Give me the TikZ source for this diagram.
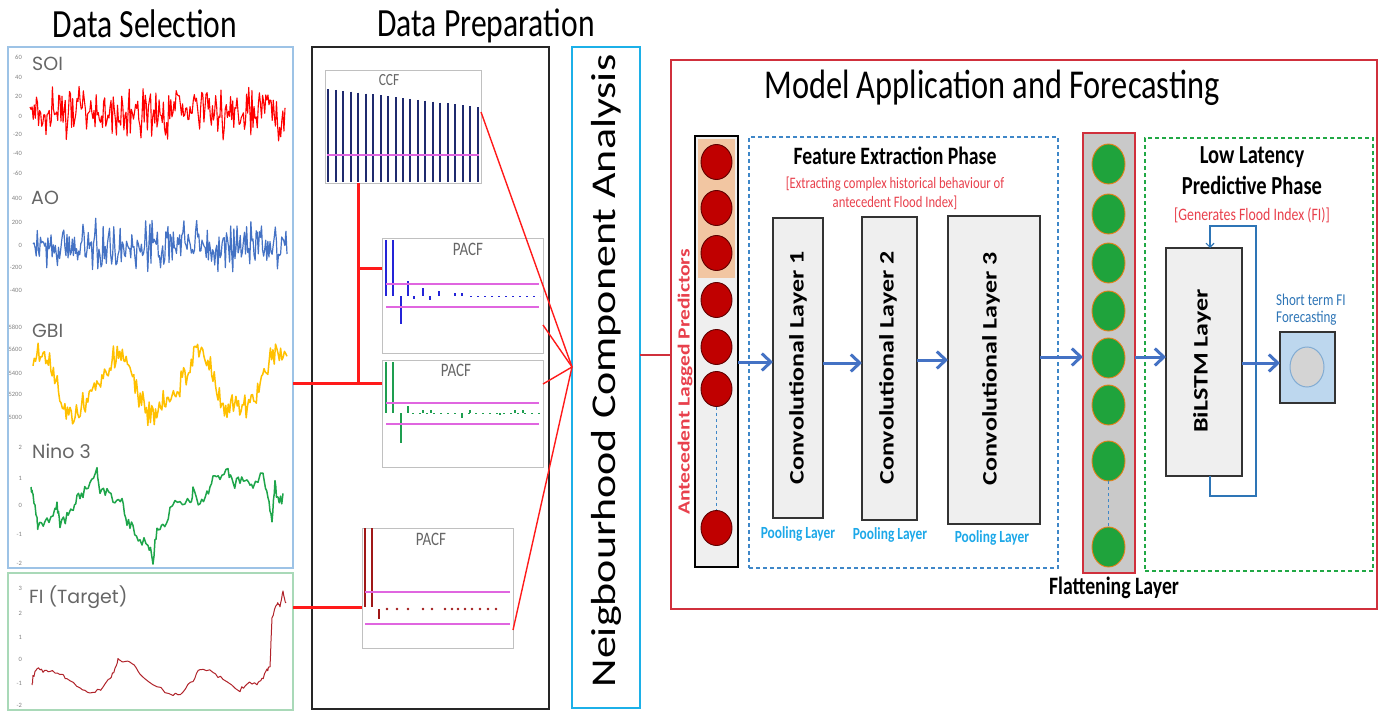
\documentclass[tikz,border=0pt]{standalone}
\usepackage{fontspec}
\usepackage{graphicx}
\setmainfont{Carlito}
\newfontfamily\plotlabelfont{Poppins}
\usetikzlibrary{arrows.meta,fit,shapes.geometric}

\newcommand{\pxfont}[1]{\fontsize{#1pt}{#1pt}\selectfont}
\newcommand{\sqz}[1]{\scalebox{0.79}[1]{#1}}
\newcommand{\sqzv}[1]{\scalebox{1}[0.79]{#1}}

\definecolor{panelblue}{HTML}{9DC3E6}
\definecolor{panelgreen}{HTML}{A9D9B8}
\definecolor{soired}{HTML}{FF0000}
\definecolor{aoblue}{HTML}{4472C4}
\definecolor{gbiorange}{HTML}{FFC000}
\definecolor{ninogreen}{HTML}{1EA54A}
\definecolor{fired}{HTML}{B0232A}
\definecolor{labelgray}{HTML}{666666}
\definecolor{tickgray}{HTML}{808080}
\definecolor{framegray}{HTML}{C0C0C0}
\definecolor{ccfnavy}{HTML}{1F2A6E}
\definecolor{confmag}{HTML}{E066E0}
\definecolor{pacfblue}{HTML}{2424D8}
\definecolor{pacfgreen}{HTML}{1E9E50}
\definecolor{pacfred}{HTML}{A01818}
\definecolor{linkred}{HTML}{FF1A1A}
\definecolor{ncacyan}{HTML}{1CB0E8}
\definecolor{modelred}{HTML}{D0303C}
\definecolor{arrowblue}{HTML}{4472C4}
\definecolor{predred}{HTML}{E8404C}
\definecolor{poolcyan}{HTML}{1DA8E8}
\definecolor{layerfill}{HTML}{EFEFEF}
\definecolor{peach}{HTML}{F2C6A2}
\definecolor{nodered}{HTML}{C00000}
\definecolor{nodegreen}{HTML}{1FA33C}
\definecolor{flatgray}{HTML}{C9C9C9}
\definecolor{outblue}{HTML}{BDD7EE}
\definecolor{outcircle}{HTML}{D4D4D4}
\definecolor{fcblue}{HTML}{2E75B6}
\definecolor{dashblue}{HTML}{3F87C8}
\definecolor{dashgreen}{HTML}{21A845}

\tikzset{
  box/.style={inner sep=0pt, outer sep=0pt},
  heading/.style={anchor=base, inner sep=0pt, font=\pxfont{40}},
  serieslabel/.style={anchor=base west, inner sep=0pt, text=labelgray, font=\plotlabelfont\pxfont{19}},
  axtick/.style={anchor=east, inner sep=0pt, text=tickgray, font=\pxfont{6.5}},
  plotname/.style={inner sep=0pt, text=labelgray, font=\pxfont{19}},
  plotframe/.style={box, draw=framegray, line width=0.9pt},
  confline/.style={confmag, line width=1.5pt},
  redlink/.style={linkred, line width=3pt},
  fanlink/.style={linkred, line width=1.4pt},
  layerbox/.style={box, draw=black!80, line width=1.8pt, fill=layerfill},
  layertext/.style={rotate=90, inner sep=0pt, font=\bfseries\pxfont{26}},
  pooltext/.style={anchor=base, inner sep=0pt, text=poolcyan, font=\bfseries\pxfont{17}},
  phasetitle/.style={anchor=base, inner sep=0pt, font=\bfseries\pxfont{25}},
  phasenote/.style={anchor=base, inner sep=0pt, text=predred, font=\pxfont{16}},
  flow/.style={arrowblue, line width=3pt, -{Straight Barb[length=9pt,width=17pt]}},
  rednode/.style={ellipse, minimum width=31pt, minimum height=35pt, inner sep=0pt, fill=nodered, draw=nodered!50!black, line width=0.9pt},
  greennode/.style={ellipse, minimum width=33pt, minimum height=40pt, inner sep=0pt, fill=nodegreen, draw=orange!60!brown, line width=0.9pt},
  chain/.style={dashblue, line width=1pt, dashed},
}

\begin{document}
\begin{tikzpicture}[x=1pt, y=-1pt]
\useasboundingbox (0,0) rectangle (1385,712);

% ---------------- Data Selection ----------------
\node[heading] (selhead) at (145,37) {\sqz{Data Selection}};
\node[box, draw=panelblue, line width=1.6pt, fit={(8,47) (293,568)}] (selbox) {};
\node[box, draw=panelgreen, line width=1.6pt, fit={(8,573) (293,710)}] (fibox) {};

\node[serieslabel] (soilab) at (32,70) {SOI};
\node[serieslabel] (aolab) at (31,204) {AO};
\node[serieslabel] (gbilab) at (32,337) {GBI};
\node[serieslabel] (ninolab) at (32,458) {Nino 3};
\node[serieslabel] (filab) at (29,603) {FI (Target)};

\foreach \v/\y in {60/57,40/77,20/96,0/116,-20/134,-40/153,-60/173}
  \node[axtick] at (22,\y) {\v};
\foreach \v/\y in {400/198,200/222,0/245,-200/267,-400/290}
  \node[axtick] at (22,\y) {\v};
\foreach \v/\y in {5800/327,5600/349,5400/373,5200/394,5000/417}
  \node[axtick] at (22,\y) {\v};
\foreach \v/\y in {2/447,1/478,0/505,-1/534,-2/563}
  \node[axtick] at (22,\y) {\v};
\foreach \v/\y in {3/588,2/613,1/637,0/659,-1/683,-2/705}
  \node[axtick] at (22,\y) {\v};

\pgfmathsetseed{12}
% SOI
\draw[soired, line width=1.1pt, line join=round]
  plot[domain=30:285, samples=240] (\x, {113 - 17*rand - 14*rand});
% AO
\draw[aoblue, line width=1.2pt, line join=round]
  plot[domain=33:287, samples=240] (\x, {245 - 14*rand - 10*rand - 7*rand});
% GBI
\draw[gbiorange, line width=1.5pt, line join=round]
  plot[domain=33:287, samples=200] (\x, {385 - 28*cos((\x-35)*4.44) + 6*sin((\x-20)*9.5) - 9*rand - 7*rand});
% Nino 3
\draw[ninogreen, line width=1.5pt, line join=round] (31,487)
  \foreach \xb/\yb [remember=\xb as \xa (initially 31), remember=\yb as \ya (initially 487)] in
  {33/497,37/517,38/528,45/522,53/517,57/505,60/527,67/517,72/513,77/497,83/493,90/480,97/472,
   100/490,107/493,115/502,122/497,127/523,133/527,140/540,148/543,153/560,157/528,163/527,
   170/510,180/500,190/503,193/492,200/503,207/493,213/477,220/478,228/468,233/487,240/480,
   247/480,253/490,263/473,268/497,272/520,275/485,278/502,283/498}
  { \foreach \k in {1,...,4} { -- ({\xa+(\xb-\xa)*\k/4}, {\ya+(\yb-\ya)*\k/4+5*rand}) } };
% FI
\draw[fired, line width=1pt, line join=round] (32,685)
  \foreach \xb/\yb [remember=\xb as \xa (initially 32), remember=\yb as \ya (initially 685)] in
  {33/677,37/668,43/671,50/670,60/673,67/680,80/687,90/692,100/690,103/687,110/678,115/670,
   118/660,123/663,132/662,140/673,157/687,173/695,183/692,193/680,200/668,213/672,223/680,
   240/690,247/683,257/685,262/680,267/670,270/667,272/617,277/603,280/607,283/592,286/603}
  { \foreach \k in {1,...,4} { -- ({\xa+(\xb-\xa)*\k/4}, {\ya+(\yb-\ya)*\k/4+1.8*rand}) } };

% ---------------- Data Preparation ----------------
\node[heading] (prephead) at (486,36) {\sqz{Data Preparation}};
\node[box, draw=black!85, line width=1.8pt, fit={(312,47) (549,709)}] (prepbox) {};

% CCF
\node[plotframe, fit={(325,70) (481,183)}] (ccf) {};
\node[plotname, font=\pxfont{17}] at (389,80) {\sqz{CCF}};
\foreach \i in {0,...,20}
  \draw[ccfnavy, line width=2pt] ({328.3+7.47*\i}, {89+0.9*\i}) -- ({328.3+7.47*\i}, 182);
\draw[confline] (327,155) -- (479,155);

% PACF 1
\node[plotframe, fit={(382,238) (543,353)}] (pacf1) {};
\node[plotname] at (468,249) {\sqz{PACF}};
\draw[pacfblue, line width=2pt] (386,240) -- (386,296) (393,240) -- (393,296)
  (401,296) -- (401,324) (408,281) -- (408,296) (414,296) -- (414,299)
  (423,288) -- (423,296) (430,296) -- (430,300) (439,291) -- (439,296)
  (455,293) -- (455,296) (462,293) -- (462,296);
\draw[pacfblue, line width=0.8pt, dash pattern=on 2pt off 5pt] (470,296) -- (540,296);
\draw[confline] (386,284) -- (539,284) (386,307) -- (539,307);

% PACF 2
\node[plotframe, fit={(382,360) (543,467)}] (pacf2) {};
\node[plotname] at (456,370) {\sqz{PACF}};
\draw[pacfgreen, line width=2pt] (386,362) -- (386,413) (393,362) -- (393,413)
  (401,413) -- (401,443) (408,406) -- (408,413) (423,410) -- (423,413)
  (431,410) -- (431,413) (462,413) -- (462,418) (470,410) -- (470,413)
  (500,413) -- (500,415) (515,410) -- (515,413) (523,410) -- (523,413);
\draw[pacfgreen, line width=0.8pt, dash pattern=on 2pt off 5pt] (412,413) -- (540,413);
\draw[confline] (386,403) -- (539,403) (386,424) -- (539,424);

% PACF 3
\node[plotframe, fit={(362,528) (513,648)}] (pacf3) {};
\node[plotname] at (431,539) {\sqz{PACF}};
\draw[pacfred, line width=2pt] (365,528) -- (365,607) (372,528) -- (372,607) (379,609) -- (379,619);
\foreach \x in {387,397,408,423,432,445,452,458,465,472,480,488,496}
  \fill[pacfred] (\x,609) circle (1.3pt);
\draw[confline] (365,592) -- (510,592) (365,624) -- (510,624);

% links from the series to the correlation plots
\coordinate (jtop) at (358,183);
\coordinate (jmid) at (358,268);
\coordinate (jbot) at (358,383);
\coordinate (fiout) at (293,607);
\draw[redlink] (jtop) -- (jbot);
\draw[redlink] (jmid) -- (jmid -| pacf1.west);
\draw[redlink] (selbox.east |- jbot) -- (jbot -| pacf2.west);
\draw[redlink] (fiout) -- (fiout -| pacf3.west);

% ---------------- Neighbourhood Component Analysis ----------------
\node[box, draw=ncacyan, line width=1.8pt, fit={(572,47) (640,708)}] (nca) {};
\node[rotate=90, inner sep=0pt, font=\pxfont{44}] (ncalab) at (606,371) {\sqzv{Neigbourhood Component Analysis}};
\coordinate (ncain) at (572,367);
\coordinate (ccfout) at (481,112);
\coordinate (p1out) at (543,325);
\coordinate (p2out) at (543,384);
\coordinate (p3out) at (513,630);
\foreach \c in {ccfout,p1out,p2out,p3out}
  \draw[fanlink] (\c) -- (ncain);

% ---------------- Model Application and Forecasting ----------------
\node[box, draw=modelred, line width=1.6pt, fit={(671,60) (1377,609)}] (model) {};
\node[heading, font=\pxfont{41}] (modelhead) at (992,98) {\sqz{Model Application and Forecasting}};
\coordinate (ncaout) at (640,355);
\draw[modelred, line width=1.5pt] (ncaout) -- (ncaout -| model.west);

% input column of lagged predictors
\node[box, draw=black, line width=1.8pt, fill=layerfill, fit={(695,136) (738,567)}] (incol) {};
\fill[peach] (698,139) rectangle (735,278);
\foreach \y [count=\i] in {162,208,253,300,347,389,528}
  \node[rednode] (in\i) at (716.5,\y) {};
\draw[chain] (in6.south) -- (in7.north);
\node[rotate=90, inner sep=0pt, text=predred, font=\bfseries\pxfont{21.5}] (predlab) at (685,382) {\sqzv{Antecedent Lagged Predictors}};

% feature extraction phase
\node[box, draw=dashblue, line width=1.4pt, dash pattern=on 4pt off 3pt, fit={(749,137) (1058,568)}] (fe) {};
\node[phasetitle] at (895,164) {\sqz{Feature Extraction Phase}};
\node[phasenote] at (895,188) {\sqz{[Extracting complex historical behaviour of}};
\node[phasenote] at (895,207) {\sqz{antecedent Flood Index]}};

\node[layerbox, fit={(773,218) (823,518)}] (conv1) {};
\node[layerbox, fit={(862,217) (917,520)}] (conv2) {};
\node[layerbox, fit={(948,216) (1040,524)}] (conv3) {};
\node[layertext] at (798,368) {\sqzv{Convolutional Layer 1}};
\node[layertext] at (888,368) {\sqzv{Convolutional Layer 2}};
\node[layertext] at (991,369) {\sqzv{Convolutional Layer 3}};
\node[pooltext] at (798,538) {\sqz{Pooling Layer}};
\node[pooltext] at (890,539) {\sqz{Pooling Layer}};
\node[pooltext] at (992,542) {\sqz{Pooling Layer}};

% flattening layer
\node[box, draw=modelred, line width=2.4pt, fill=flatgray, fit={(1083,133) (1135,573)}] (flat) {};
\foreach \y [count=\i] in {164,214,263,311,358,405,461,547}
  \node[greennode] (fl\i) at (1108.5,\y) {};
\draw[chain] (fl7.south) -- (fl8.north);
\node[phasetitle, font=\bfseries\pxfont{25}] at (1114,594) {\sqz{Flattening Layer}};

% low latency predictive phase
\node[box, draw=dashgreen, line width=1.4pt, dash pattern=on 4pt off 3pt, fit={(1145,138) (1373,571)}] (llp) {};
\node[phasetitle, font=\bfseries\pxfont{26}] at (1252,163) {\sqz{Low Latency}};
\node[phasetitle, font=\bfseries\pxfont{26}] at (1252,194) {\sqz{Predictive Phase}};
\node[phasenote, font=\pxfont{17.5}] at (1252,220) {\sqz{[Generates Flood Index (FI)]}};

\node[layerbox, fit={(1166,248) (1242,476)}] (bilstm) {};
\node[layertext] at (1202,361) {\sqzv{BiLSTM Layer}};
\draw[fcblue, line width=1.1pt, -{Straight Barb[length=4pt,width=8pt]}]
  ([xshift=6pt]bilstm.south) -- ++(0,20) -| (1256,226) -| ([xshift=6pt]bilstm.north);

\node[box, draw=black!80, line width=1.6pt, fill=outblue, fit={(1280,332) (1335,403)}] (out) {};
\node[ellipse, minimum width=34pt, minimum height=40pt, inner sep=0pt, fill=outcircle, draw=fcblue!60, line width=1pt] (outcirc) at (1307,367) {};
\node[anchor=base west, inner sep=0pt, text=fcblue, font=\pxfont{16.5}] at (1276,305) {\sqz{Short term FI}};
\node[anchor=base west, inner sep=0pt, text=fcblue, font=\pxfont{16.5}] at (1276,322) {\sqz{Forecasting}};

% data flow through the network
\coordinate (a1) at (738,362);
\coordinate (a2) at (823,363);
\coordinate (a3) at (917,360);
\coordinate (a4) at (1040,357);
\coordinate (a5) at (1135,357);
\coordinate (a6) at (1242,363);
\draw[flow] (a1) -- (a1 -| conv1.west);
\draw[flow] (a2) -- (a2 -| conv2.west);
\draw[flow] (a3) -- (a3 -| conv3.west);
\draw[flow] (a4) -- (a4 -| flat.west);
\draw[flow] (a5) -- (a5 -| bilstm.west);
\draw[flow] (a6) -- (a6 -| out.west);
\end{tikzpicture}
\end{document}
